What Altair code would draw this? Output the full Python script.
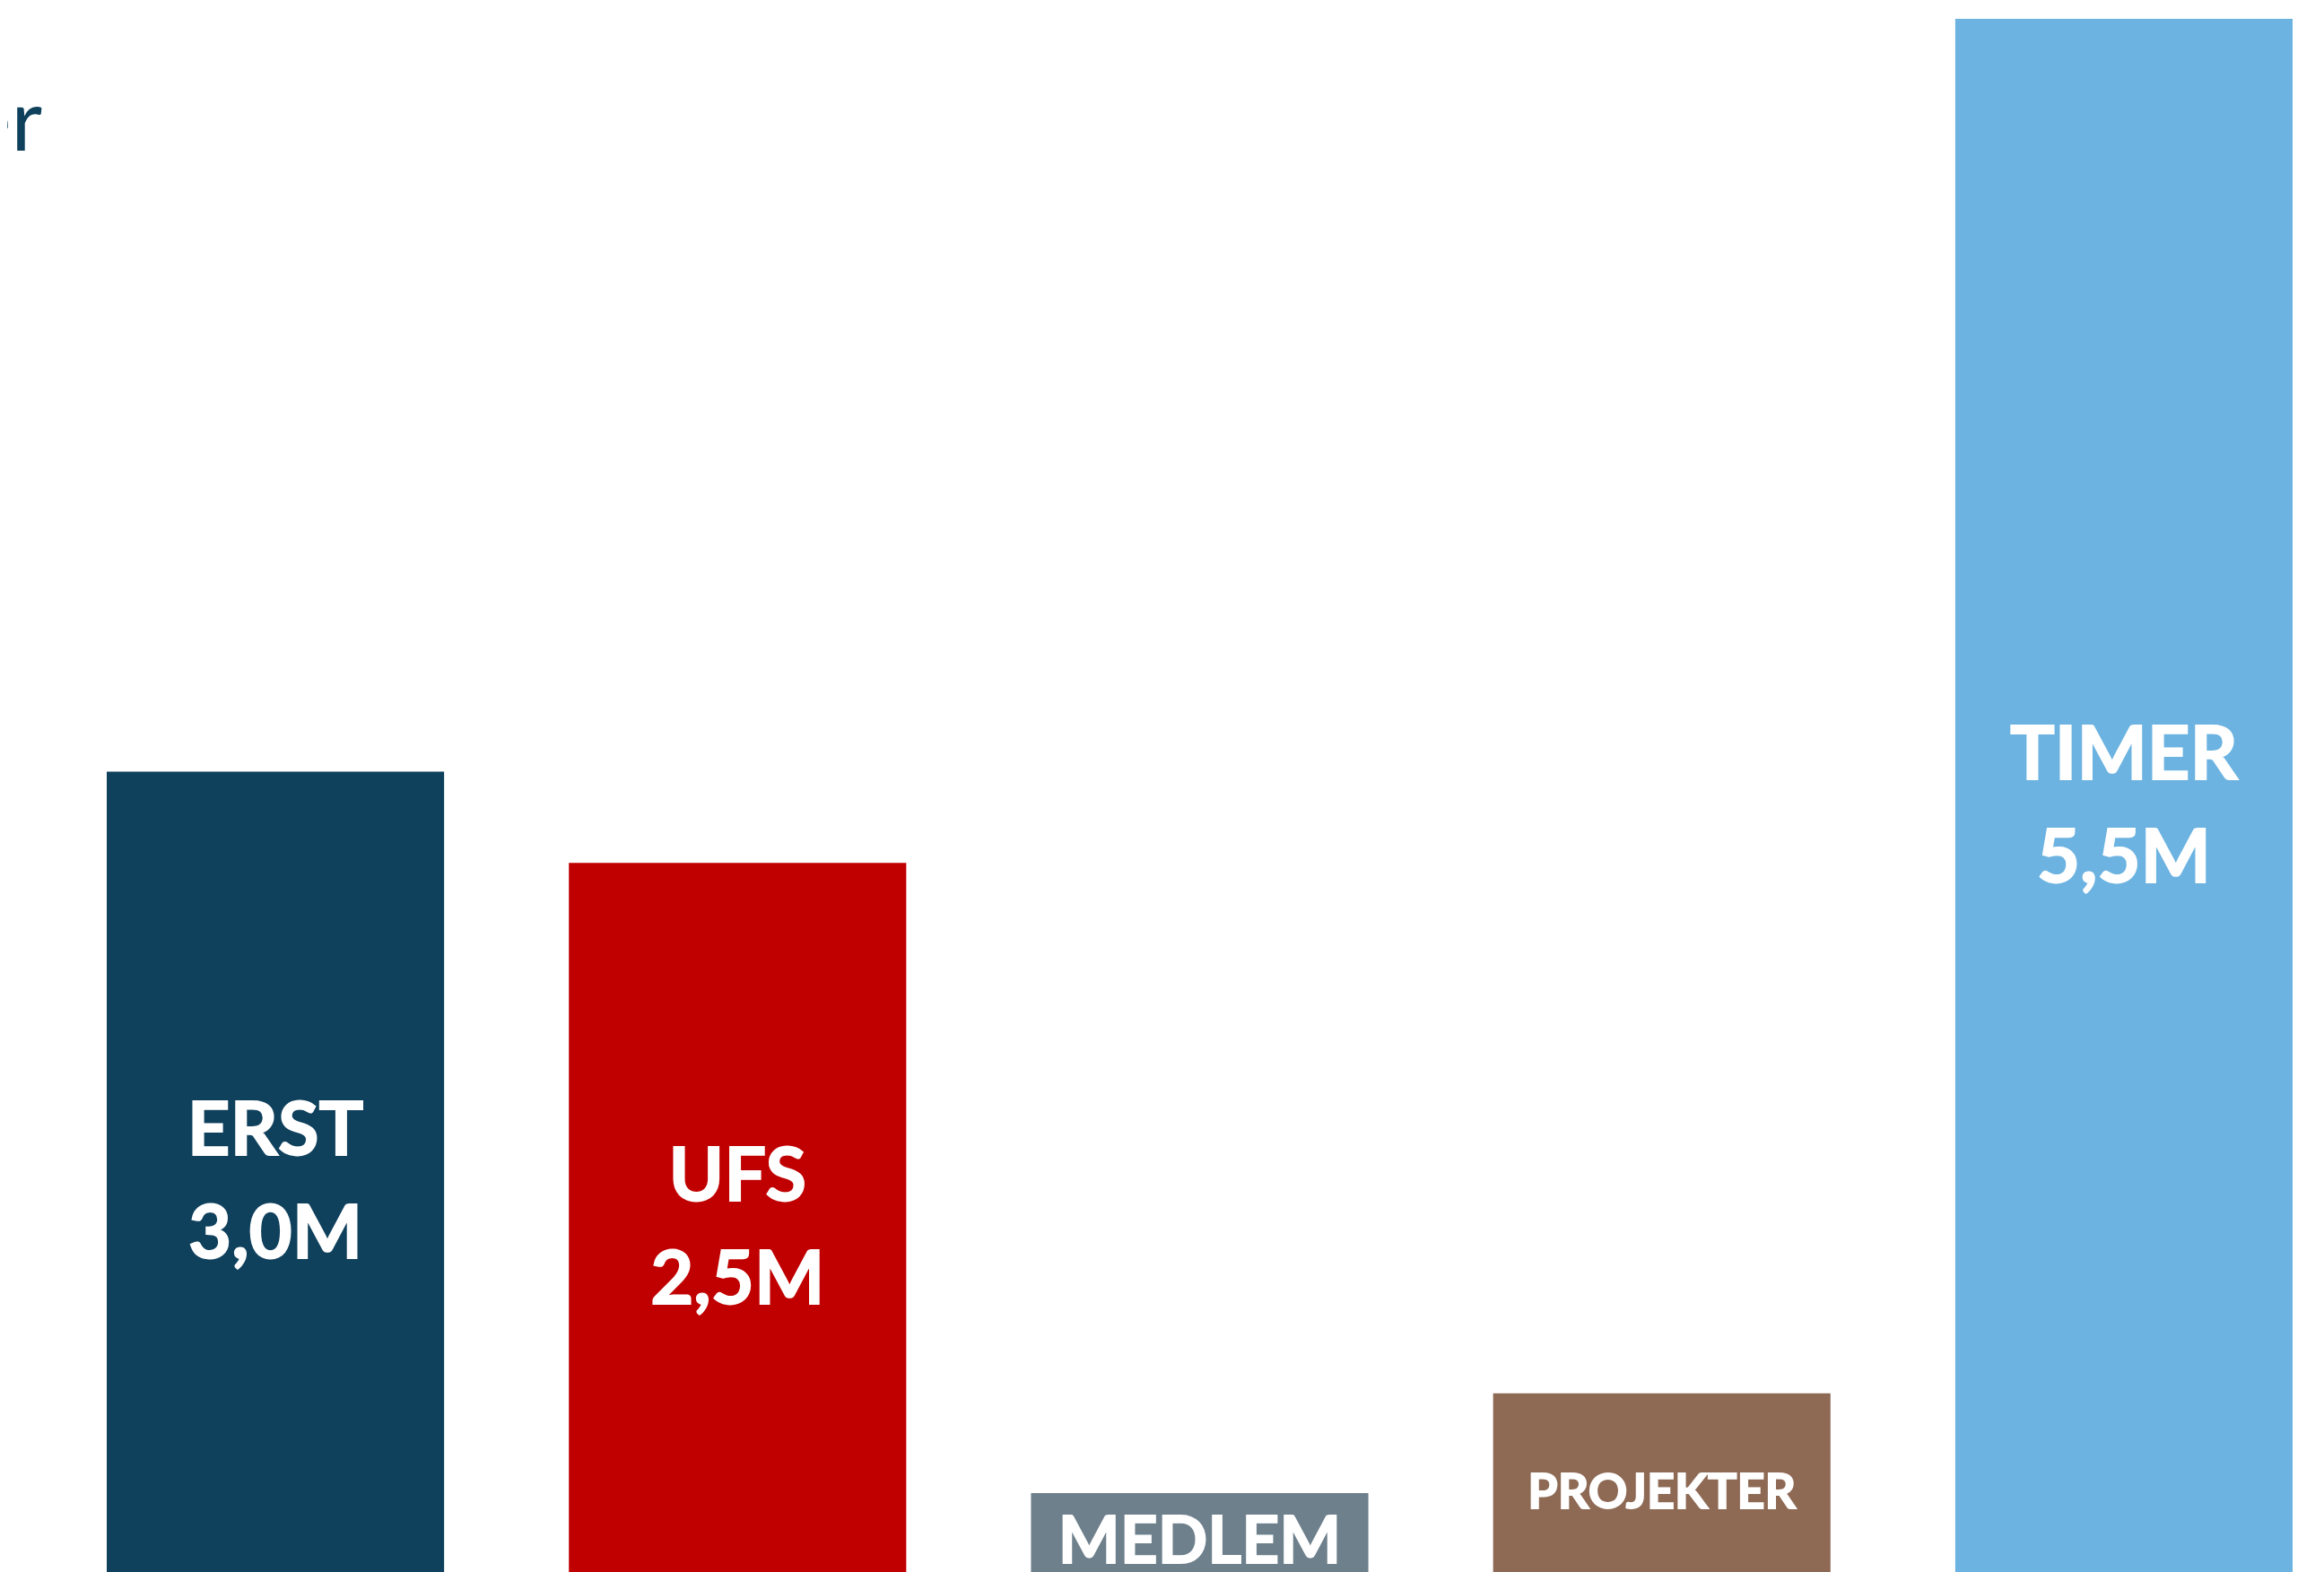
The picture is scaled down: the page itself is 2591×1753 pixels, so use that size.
import altair as alt
import pandas as pd

# Data
categories = ["ERST", "UFS", "MEDLEM", "PROJEKTER", "TIMER"]
heights = [2.86, 2.54, 0.33, 0.68, 5.5]          # bar heights (M), measured
value_labels = ["3,0M", "2,5M", "", "", "5,5M"]  # printed values
colors = ["#0F405C", "#C00000", "#6E808C", "#8E6A55", "#6CB3E1"]
title_fragment = ["er"]

df = pd.DataFrame({"cat": categories, "h": heights, "val": value_labels})

x_enc = alt.X("cat:N", sort=categories,
              scale=alt.Scale(paddingInner=0.27, paddingOuter=0), axis=None)
y_scale = alt.Scale(domain=[0, 5.5], nice=False, zero=True)

base = alt.Chart(df)

bars = base.mark_bar(cornerRadius=0).encode(
    x=x_enc,
    y=alt.Y("h:Q", scale=y_scale, axis=None),
    color=alt.Color("cat:N", scale=alt.Scale(domain=categories, range=colors), legend=None),
)

mid = base.transform_calculate(mid="datum.h / 2")

font = "Lato"
txt = dict(font=font, fontWeight="bold", color="white", stroke="white",
           strokeWidth=1.8, baseline="alphabetic")
y_mid = alt.Y("mid:Q", scale=y_scale, axis=None)

two_line = mid.transform_filter("datum.val != ''")
name2 = two_line.mark_text(fontSize=83, dy=-27, **txt).encode(x=x_enc, y=y_mid, text="cat:N")
val2 = two_line.mark_text(fontSize=83, dy=88, **txt).encode(x=x_enc, y=y_mid, text="val:N")

medlem = mid.transform_filter("datum.cat == 'MEDLEM'").mark_text(
    fontSize=73, dy=25, **txt).encode(x=x_enc, y=y_mid, text="cat:N")
proj = mid.transform_filter("datum.cat == 'PROJEKTER'").mark_text(
    fontSize=54, dy=20, **txt).encode(x=x_enc, y=y_mid, text="cat:N")

frag = alt.Chart(pd.DataFrame({"t": title_fragment})).mark_text(
    font=font, fontSize=95, color="#0F405C", align="right", baseline="alphabetic"
).encode(x=alt.value(-72), y=alt.value(147), text="t:N")

chart = alt.layer(bars, name2, val2, medlem, proj, frag).properties(
    width=2437, height=1749,
    padding={"left": 111, "top": 13, "right": 0, "bottom": 0},
    autosize=alt.AutoSizeParams(type="none"),
).configure_view(stroke=None)

chart.save("out.html", embed_options={"renderer": "svg", "actions": False})
